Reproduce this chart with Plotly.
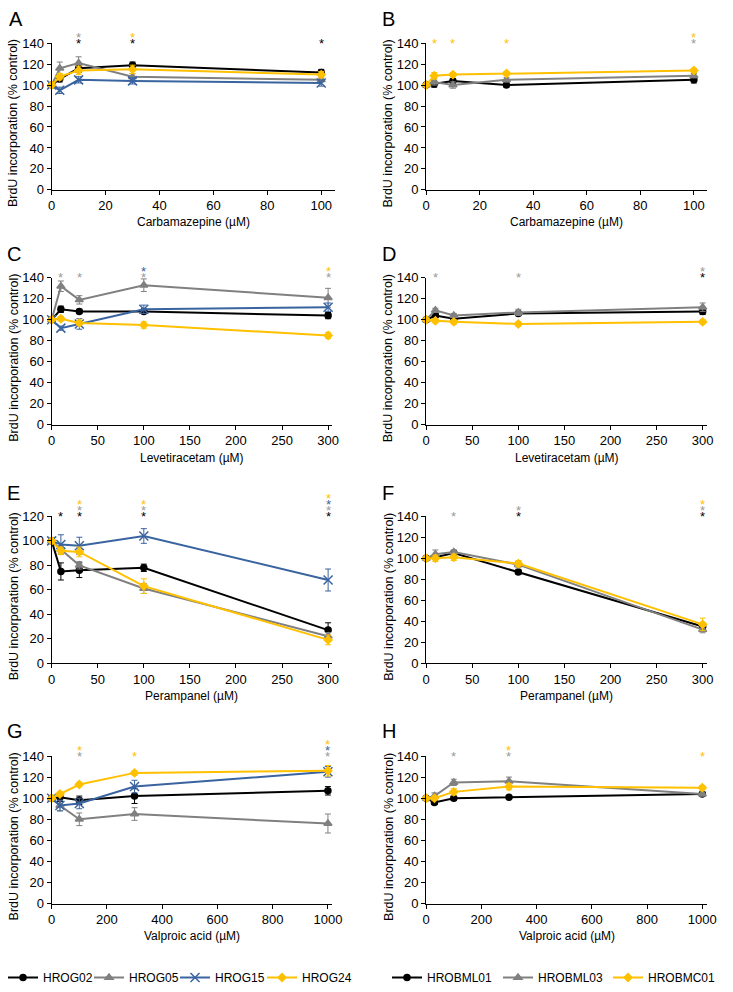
import plotly.graph_objects as go

# ---------------- DATA ----------------
left_series = ["HROG02", "HROG05", "HROG15", "HROG24"]
right_series = ["HROBML01", "HROBML03", "HROBMC01"]

conc_carb = [0, 3, 10, 30, 100]
conc_lev = [0, 10, 30, 100, 300]
conc_per = [0, 10, 30, 100, 300]
conc_vpa = [0, 30, 100, 300, 1000]

# Panel A (Carbamazepine, glioma)
A_HROG02 = [100, 106, 116, 119, 112]; A_HROG02_err = [0, 3, 4, 3, 3]
A_HROG05 = [100, 116, 121, 108, 105]; A_HROG05_err = [0, 6, 6, 3, 2]
A_HROG15 = [100, 95, 105, 104, 102];  A_HROG15_err = [0, 3, 3, 3, 3]
A_HROG24 = [100, 108, 114, 115, 110]; A_HROG24_err = [0, 3, 4, 4, 3]
# Panel B (Carbamazepine, brain metastases)
B_HROBML01 = [100, 101, 104, 100, 105]; B_HROBML01_err = [0, 3, 2, 2, 3]
B_HROBML03 = [100, 103, 100, 105, 109]; B_HROBML03_err = [0, 3, 3, 2, 2]
B_HROBMC01 = [100, 109, 110, 111, 114]; B_HROBMC01_err = [0, 3, 2, 2, 2]
# Panel C (Levetiracetam, glioma)
C_HROG02 = [100, 110, 108, 108, 104]; C_HROG02_err = [0, 3, 2, 2, 3]
C_HROG05 = [100, 132, 119, 133, 121]; C_HROG05_err = [0, 5, 4, 6, 9]
C_HROG15 = [100, 92, 96, 110, 112];   C_HROG15_err = [0, 2, 5, 4, 4]
C_HROG24 = [100, 101, 97, 95, 85];    C_HROG24_err = [0, 2, 2, 3, 3]
# Panel D (Levetiracetam, brain metastases)
D_HROBML01 = [100, 104, 101, 106, 108]; D_HROBML01_err = [0, 2, 2, 2, 3]
D_HROBML03 = [100, 109, 104, 107, 112]; D_HROBML03_err = [0, 2, 2, 3, 4]
D_HROBMC01 = [100, 99, 98, 96, 98];     D_HROBMC01_err = [0, 2, 2, 2, 2]
# Panel E (Perampanel, glioma)
E_HROG02 = [100, 75, 76, 78, 27];  E_HROG02_err = [0, 7, 6, 3, 6]
E_HROG05 = [100, 93, 80, 61, 22];  E_HROG05_err = [0, 3, 3, 4, 3]
E_HROG15 = [100, 97, 96, 104, 68]; E_HROG15_err = [0, 8, 7, 6, 9]
E_HROG24 = [100, 92, 91, 63, 19];  E_HROG24_err = [0, 3, 4, 6, 4]
# Panel F (Perampanel, brain metastases)
F_HROBML01 = [100, 101, 105, 87, 35]; F_HROBML01_err = [0, 2, 2, 2, 3]
F_HROBML03 = [100, 104, 106, 94, 32]; F_HROBML03_err = [0, 4, 2, 3, 3]
F_HROBMC01 = [100, 100, 101, 95, 37]; F_HROBMC01_err = [0, 3, 3, 3, 6]
# Panel G (Valproic acid, glioma)
G_HROG02 = [100, 101, 98, 102, 107];  G_HROG02_err = [0, 4, 4, 7, 4]
G_HROG05 = [100, 93, 80, 85, 76];     G_HROG05_err = [0, 5, 6, 6, 9]
G_HROG15 = [100, 93, 95, 111, 125];   G_HROG15_err = [0, 5, 5, 6, 5]
G_HROG24 = [100, 104, 113, 124, 126]; G_HROG24_err = [0, 2, 2, 2, 5]
# Panel H (Valproic acid, brain metastases)
H_HROBML01 = [100, 96, 100, 101, 104];  H_HROBML01_err = [0, 2, 2, 1, 2]
H_HROBML03 = [100, 102, 115, 116, 104]; H_HROBML03_err = [0, 3, 3, 4, 2]
H_HROBMC01 = [100, 100, 106, 111, 110]; H_HROBMC01_err = [0, 2, 3, 3, 2]

# significance asterisks: concentration -> series (stacked bottom to top)
A_stars = [(10, ["HROG02", "HROG05"]), (30, ["HROG02", "HROG24"]), (100, ["HROG02"])]
B_stars = [(3, ["HROBMC01"]), (10, ["HROBMC01"]), (30, ["HROBMC01"]), (100, ["HROBML03", "HROBMC01"])]
C_stars = [(10, ["HROG05"]), (30, ["HROG05"]), (100, ["HROG05", "HROG15"]), (300, ["HROG05", "HROG24"])]
D_stars = [(10, ["HROBML03"]), (100, ["HROBML03"]), (300, ["HROBML01", "HROBML03"])]
E_stars = [(10, ["HROG02"]), (30, ["HROG02", "HROG05", "HROG24"]), (100, ["HROG02", "HROG05", "HROG24"]),
           (300, ["HROG02", "HROG05", "HROG15", "HROG24"])]
F_stars = [(30, ["HROBML03"]), (100, ["HROBML01", "HROBML03"]), (300, ["HROBML01", "HROBML03", "HROBMC01"])]
G_stars = [(100, ["HROG05", "HROG24"]), (300, ["HROG24"]), (1000, ["HROG05", "HROG15", "HROG24"])]
H_stars = [(100, ["HROBML03"]), (300, ["HROBML03", "HROBMC01"]), (1000, ["HROBMC01"])]

x_titles = ["Carbamazepine (µM)", "Carbamazepine (µM)", "Levetiracetam (µM)", "Levetiracetam (µM)",
            "Perampanel (µM)", "Perampanel (µM)", "Valproic acid (µM)", "Valproic acid (µM)"]
y_title = "BrdU incorporation (% control)"
panel_letters = ["A", "B", "C", "D", "E", "F", "G", "H"]

panel_data = [
    (conc_carb, {"HROG02": (A_HROG02, A_HROG02_err), "HROG05": (A_HROG05, A_HROG05_err),
                 "HROG15": (A_HROG15, A_HROG15_err), "HROG24": (A_HROG24, A_HROG24_err)}, A_stars),
    (conc_carb, {"HROBML01": (B_HROBML01, B_HROBML01_err), "HROBML03": (B_HROBML03, B_HROBML03_err),
                 "HROBMC01": (B_HROBMC01, B_HROBMC01_err)}, B_stars),
    (conc_lev, {"HROG02": (C_HROG02, C_HROG02_err), "HROG05": (C_HROG05, C_HROG05_err),
                "HROG15": (C_HROG15, C_HROG15_err), "HROG24": (C_HROG24, C_HROG24_err)}, C_stars),
    (conc_lev, {"HROBML01": (D_HROBML01, D_HROBML01_err), "HROBML03": (D_HROBML03, D_HROBML03_err),
                "HROBMC01": (D_HROBMC01, D_HROBMC01_err)}, D_stars),
    (conc_per, {"HROG02": (E_HROG02, E_HROG02_err), "HROG05": (E_HROG05, E_HROG05_err),
                "HROG15": (E_HROG15, E_HROG15_err), "HROG24": (E_HROG24, E_HROG24_err)}, E_stars),
    (conc_per, {"HROBML01": (F_HROBML01, F_HROBML01_err), "HROBML03": (F_HROBML03, F_HROBML03_err),
                "HROBMC01": (F_HROBMC01, F_HROBMC01_err)}, F_stars),
    (conc_vpa, {"HROG02": (G_HROG02, G_HROG02_err), "HROG05": (G_HROG05, G_HROG05_err),
                "HROG15": (G_HROG15, G_HROG15_err), "HROG24": (G_HROG24, G_HROG24_err)}, G_stars),
    (conc_vpa, {"HROBML01": (H_HROBML01, H_HROBML01_err), "HROBML03": (H_HROBML03, H_HROBML03_err),
                "HROBMC01": (H_HROBMC01, H_HROBMC01_err)}, H_stars),
]

# ---------------- STYLE / LAYOUT ----------------
W, H = 733, 992
FONT = "Liberation Sans, Arial, sans-serif"

style = {
    "HROG02": dict(color="#000000", symbol="circle", size=6, lw=41),
    "HROG05": dict(color="#808080", symbol="triangle-up", size=7, lw=41),
    "HROG15": dict(color="#3A64A0", symbol="x-thin-open", size=9, lw=42),
    "HROG24": dict(color="#FFC000", symbol="diamond", size=6, lw=60),
    "HROBML01": dict(color="#000000", symbol="circle", size=6, lw=66),
    "HROBML03": dict(color="#808080", symbol="triangle-up", size=7, lw=65),
    "HROBMC01": dict(color="#FFC000", symbol="diamond", size=6, lw=80),
}
star_color = {"HROG02": "#000000", "HROG05": "#9A9A9A", "HROG15": "#3A64A0", "HROG24": "#FFC000",
              "HROBML01": "#000000", "HROBML03": "#9A9A9A", "HROBMC01": "#FFC000"}

# plot-area pixel boxes: (x0, x1, ytop, ybottom), x range max, y max, x tick step
boxes = [
    (49, 340, 37, 187, 105, 140, 20),
    (434, 723, 37, 187, 105, 140, 20),
    (49, 337, 277, 427, 304, 140, 50),
    (434, 723, 277, 427, 305, 140, 50),
    (49, 337, 521, 671, 304, 120, 50),
    (434, 723, 521, 671, 305, 140, 50),
    (49, 337, 766, 917, 1014, 140, 200),
    (434, 723, 766, 917, 1018, 140, 200),
]
letter_pos = [(3, -1), (387, -1), (1, 239), (387, 239), (1, 484), (387, 484), (1, 727), (387, 727)]
xtitle_y = [220, 220, 461, 461, 705, 705, 950, 950]


def px(x):
    return x / W


def py(y):
    return 1 - y / H


fig = go.Figure()
annotations = []
layout_axes = {}

for i, (conc, series, stars) in enumerate(panel_data):
    n = i + 1
    xa = "x" if n == 1 else f"x{n}"
    ya = "y" if n == 1 else f"y{n}"
    x0, x1, yt, yb, xmax, ymax, xstep = boxes[i]
    is_left = (i % 2 == 0)
    legend_name = "legend" if is_left else "legend2"
    first = i in (0, 1)
    for name, (vals, err) in series.items():
        st = style[name]
        fig.add_trace(go.Scatter(
            x=conc, y=vals, name=name, xaxis=xa, yaxis=ya,
            mode="lines+markers",
            line=dict(color=st["color"], width=2),
            marker=dict(color=st["color"], symbol=st["symbol"], size=st["size"],
                        line=dict(color=st["color"], width=1.5)),
            error_y=dict(type="data", array=err, visible=True, color=st["color"], thickness=1, width=3),
            cliponaxis=False, showlegend=first, legend=legend_name, legendwidth=st["lw"],
            hoverinfo="skip",
        ))
    # asterisks (x through the axis scale, stacked just above the plot area)
    for xval, names in stars:
        for k, name in enumerate(names):
            annotations.append(dict(
                text="*", x=xval, xref=xa, y=py(yt - 6 * k), yref="paper",
                xanchor="center", yanchor="middle", showarrow=False,
                font=dict(color=star_color[name], size=13, family=FONT)))
    axis_common = dict(showline=True, linecolor="#000000", linewidth=1, ticks="outside", ticklen=4,
                       tickcolor="#000000", tickwidth=1, showgrid=False, zeroline=False,
                       tickfont=dict(family=FONT, size=13, color="#000000"))
    layout_axes["xaxis" if n == 1 else f"xaxis{n}"] = dict(
        domain=[px(x0), px(x1)], range=[0, xmax], anchor=ya, tick0=0, dtick=xstep, **axis_common)
    layout_axes["yaxis" if n == 1 else f"yaxis{n}"] = dict(
        domain=[py(yb), py(yt)], range=[0, ymax], anchor=xa, tick0=0, dtick=20, **axis_common)

    lx, ly = letter_pos[i]
    annotations.append(dict(text=panel_letters[i], x=px(lx), y=py(ly), xref="paper", yref="paper",
                            xanchor="left", yanchor="top", showarrow=False,
                            font=dict(family=FONT, size=20, color="#000000")))
    annotations.append(dict(text=x_titles[i], x=px((x0 + x1) / 2), y=py(xtitle_y[i]), xref="paper",
                            yref="paper", xanchor="center", yanchor="middle", showarrow=False,
                            font=dict(family=FONT, size=12, color="#000000")))
    annotations.append(dict(text=y_title, x=px(10 if is_left else 395), y=py((yt + yb) / 2 + 7),
                            xref="paper", yref="paper", xanchor="center", yanchor="middle",
                            textangle=-90, showarrow=False,
                            font=dict(family=FONT, size=12.5, color="#000000")))

legend_common = dict(orientation="h", yanchor="middle", xanchor="left", bgcolor="rgba(0,0,0,0)",
                     font=dict(family=FONT, size=12, color="#000000"), itemwidth=30,
                     tracegroupgap=0, entrywidthmode="pixels")

fig.update_layout(
    width=W, height=H, autosize=False,
    margin=dict(l=0, r=0, t=0, b=0),
    paper_bgcolor="white", plot_bgcolor="white",
    font=dict(family=FONT, size=12, color="#000000"),
    annotations=annotations,
    legend=dict(x=px(-1), y=py(993), **legend_common),
    legend2=dict(x=px(394), y=py(993), **legend_common),
    **layout_axes,
)

fig.write_html("out.html", config={"displayModeBar": False},
               post_script="document.body.style.margin='0';document.body.style.overflow='hidden';")
